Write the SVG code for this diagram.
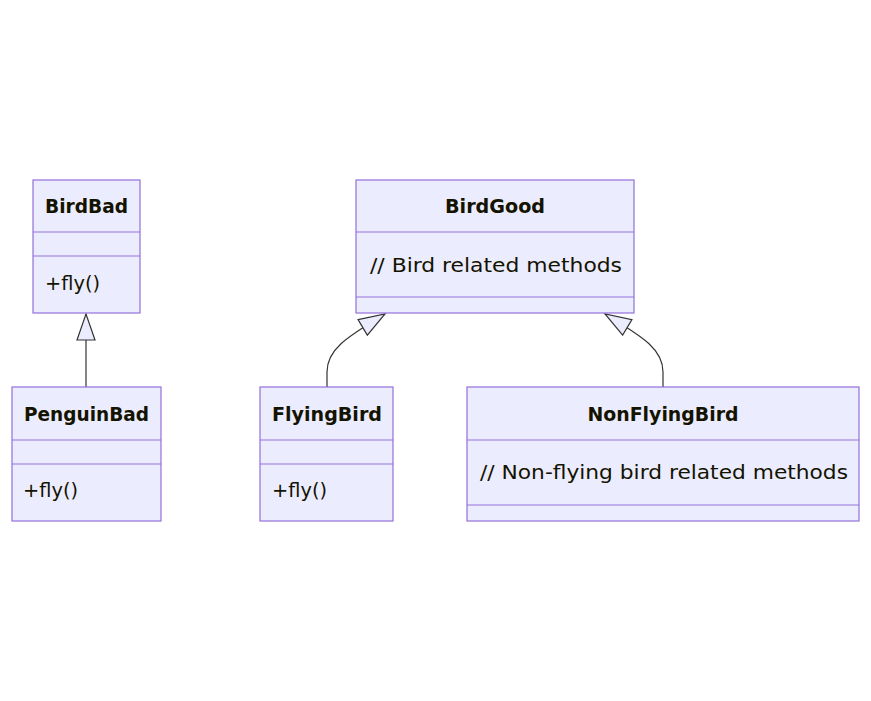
<svg xmlns="http://www.w3.org/2000/svg" width="871" height="701" viewBox="0 0 871 701">
<style>
.box{fill:#ECECFF;stroke:#9370DB;stroke-width:1.2}
.div{stroke:#9370DB;stroke-width:1.2}
.t{font-family:"DejaVu Sans",Verdana,sans-serif;font-size:20px;fill:#131300}
.b{font-weight:bold;text-anchor:middle}
.c{text-anchor:middle}
.edge{fill:none;stroke:#333333;stroke-width:1.2}
</style>
<defs>
<marker id="ext" markerUnits="userSpaceOnUse" markerWidth="30" markerHeight="22" refX="27" refY="10" orient="auto" viewBox="0 0 30 22">
<path d="M1,1 L27,10 L1,19 Z" fill="#ECECFF" stroke="#333333" stroke-width="1.2"/>
</marker>
</defs>
<rect width="871" height="701" fill="#ffffff"/>
<g id="connectors">
<path class="edge" d="M86,387 L86,314" marker-end="url(#ext)"/>
<path class="edge" d="M327,387 L327,372 C327,350 345,338 385,314" marker-end="url(#ext)"/>
<path class="edge" d="M663,387 L663,372 C663,350 645,338 605,314" marker-end="url(#ext)"/>
</g>
<g id="BirdBad">
<rect class="box" x="33" y="180" width="107" height="133"/>
<line class="div" x1="33" y1="232" x2="140" y2="232"/>
<line class="div" x1="33" y1="256" x2="140" y2="256"/>
<text class="t b" x="86.5" y="213" textLength="83" lengthAdjust="spacingAndGlyphs">BirdBad</text>
<text class="t" x="45" y="290" textLength="55" lengthAdjust="spacingAndGlyphs">+fly()</text>
</g>
<g id="PenguinBad">
<rect class="box" x="12" y="387" width="149" height="134"/>
<line class="div" x1="12" y1="440" x2="161" y2="440"/>
<line class="div" x1="12" y1="464" x2="161" y2="464"/>
<text class="t b" x="86.5" y="421" textLength="125" lengthAdjust="spacingAndGlyphs">PenguinBad</text>
<text class="t" x="23" y="497" textLength="55" lengthAdjust="spacingAndGlyphs">+fly()</text>
</g>
<g id="BirdGood">
<rect class="box" x="356" y="180" width="278" height="133"/>
<line class="div" x1="356" y1="232" x2="634" y2="232"/>
<line class="div" x1="356" y1="297" x2="634" y2="297"/>
<text class="t b" x="495" y="213" textLength="100" lengthAdjust="spacingAndGlyphs">BirdGood</text>
<text class="t c" x="496" y="272" textLength="252" lengthAdjust="spacingAndGlyphs">// Bird related methods</text>
</g>
<g id="FlyingBird">
<rect class="box" x="260" y="387" width="133" height="134"/>
<line class="div" x1="260" y1="440" x2="393" y2="440"/>
<line class="div" x1="260" y1="464" x2="393" y2="464"/>
<text class="t b" x="327" y="421" textLength="110" lengthAdjust="spacingAndGlyphs">FlyingBird</text>
<text class="t" x="272" y="497" textLength="55" lengthAdjust="spacingAndGlyphs">+fly()</text>
</g>
<g id="NonFlyingBird">
<rect class="box" x="467" y="387" width="392" height="134"/>
<line class="div" x1="467" y1="440" x2="859" y2="440"/>
<line class="div" x1="467" y1="505" x2="859" y2="505"/>
<text class="t b" x="663" y="421" textLength="151" lengthAdjust="spacingAndGlyphs">NonFlyingBird</text>
<text class="t c" x="664" y="479" textLength="368" lengthAdjust="spacingAndGlyphs">// Non-flying bird related methods</text>
</g>
</svg>
